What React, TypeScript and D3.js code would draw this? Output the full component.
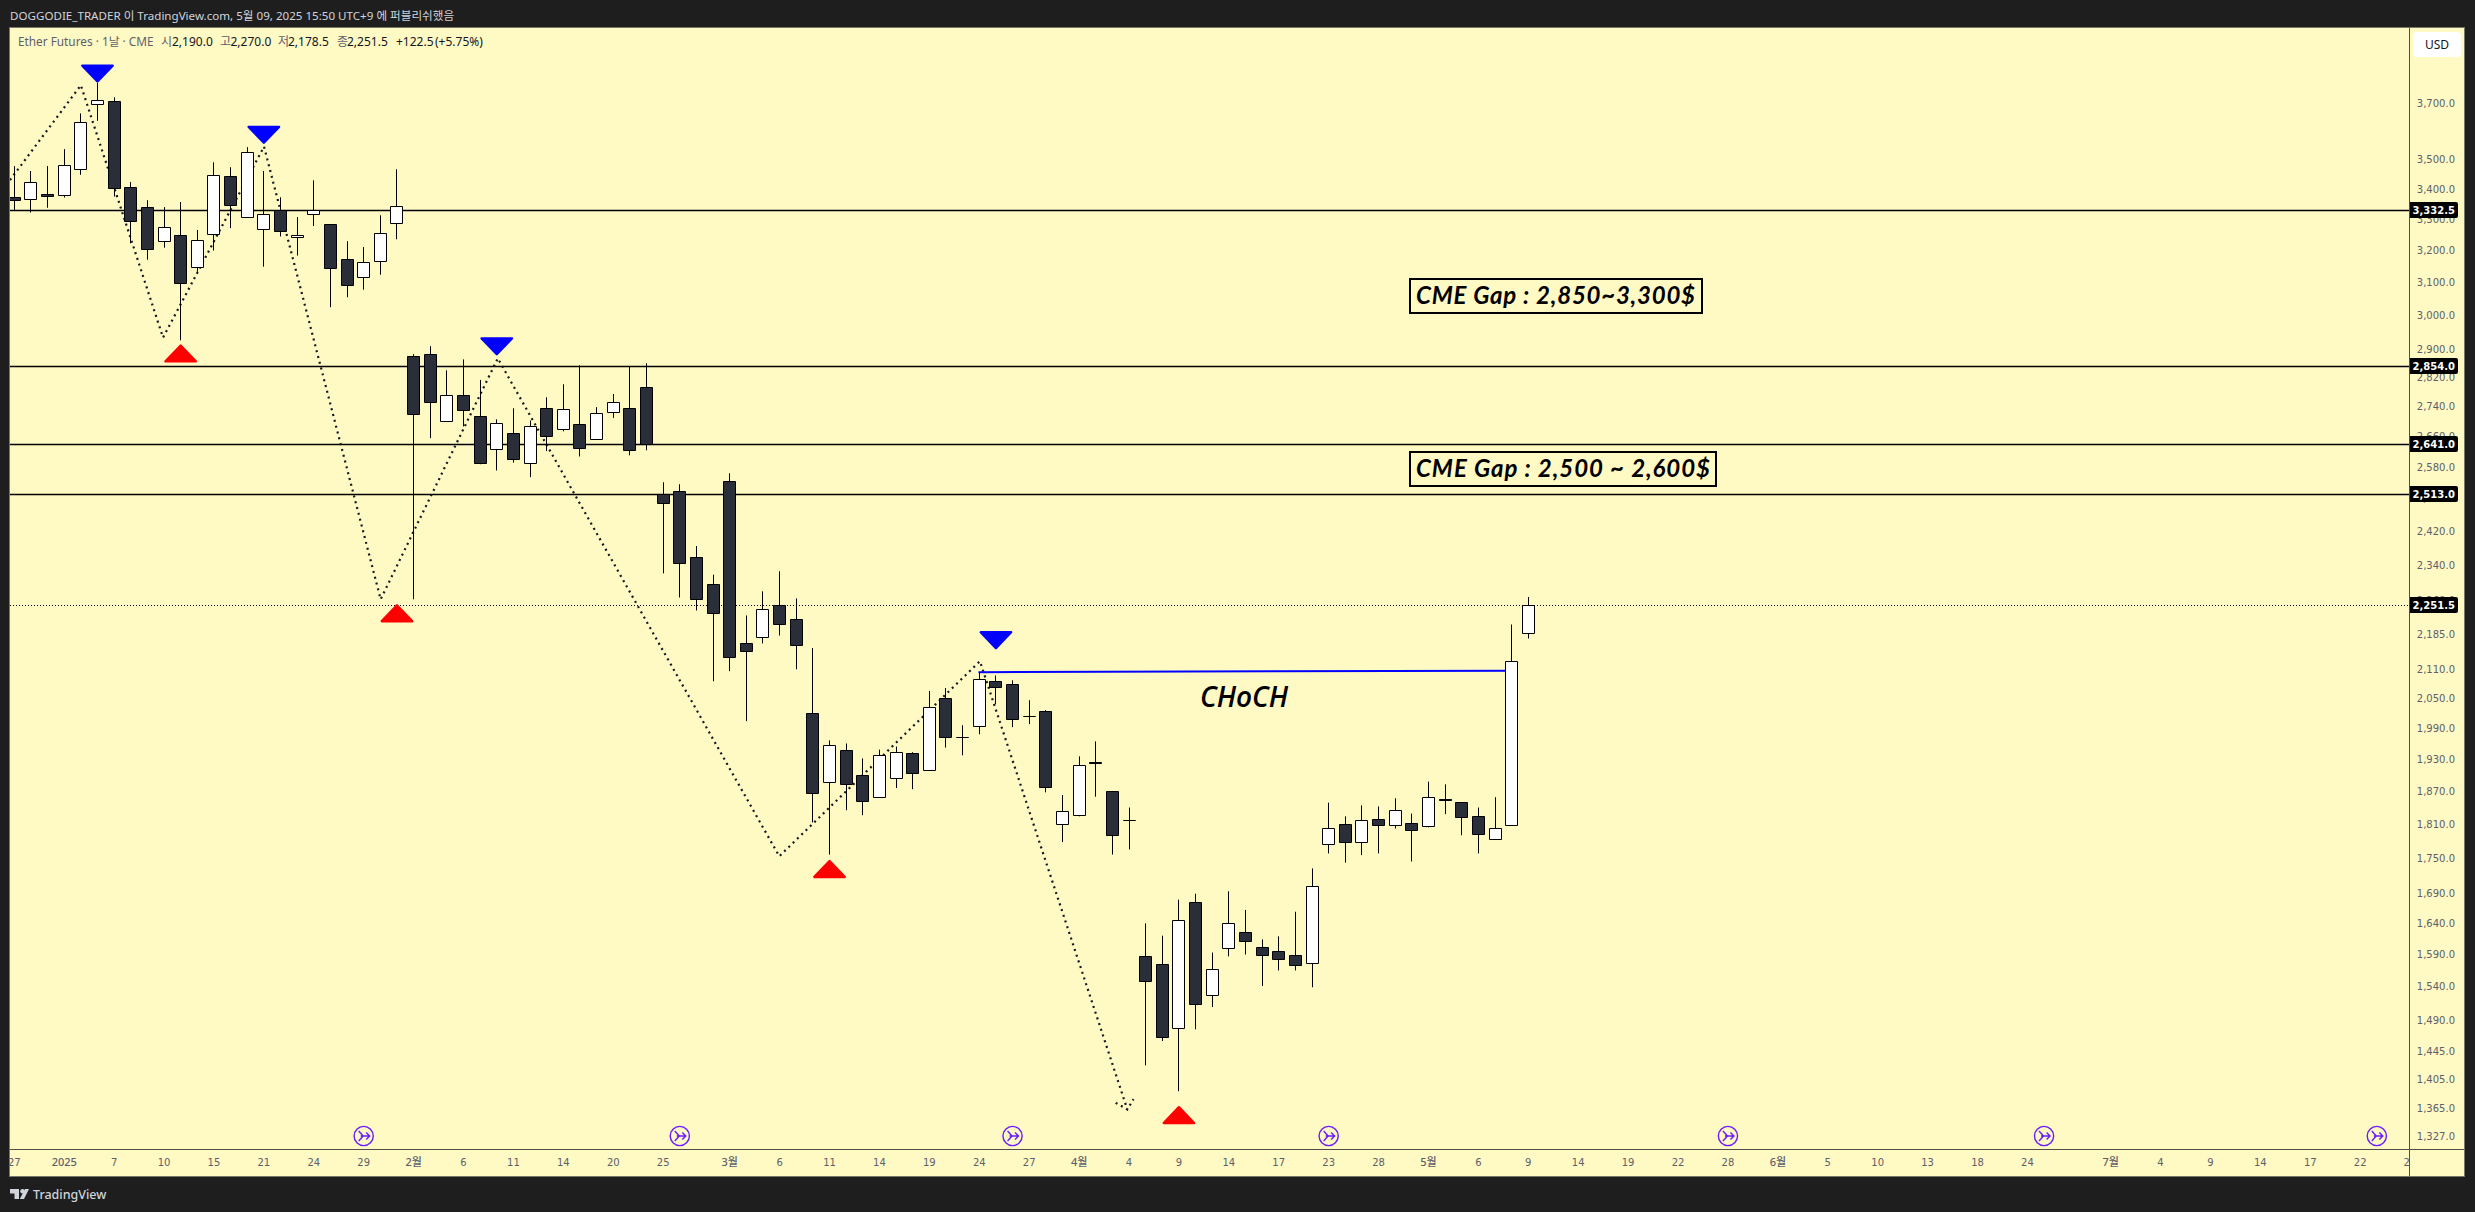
import React from "react";
import * as d3 from "d3";

// ---------- data ----------
const opens = [
  3376,3369,3386,3383,3471,3702,3713,3409,3343,3232,
  3251,3149,3254,3447,3310,3270,3333,3245,3320,3286,
  3175,3118,3168,3290,2883,2889,2701,2774,2716,2629,
  2671,2592,2738,2681,2694,2655,2727,2738,2796,2514,
  2522,2360,2298,2546,2168,2181,2251,2220,2023,1889,
  1949,1902,1861,1896,1944,1911,2053,1975,1997,2088,
  2082,2017,2027,1811,1828,1927,1872,1819,1589,1576,
  1479,1676,1529,1602,1627,1603,1597,1591,1578,1776,
  1811,1779,1820,1810,1813,1808,1857,1852,1826,1784,
  1810,2190,
];
const highs = [
  3482,3465,3482,3541,3669,3782,3728,3427,3366,3343,
  3360,3268,3495,3478,3548,3465,3376,3310,3433,3286,
  3232,3213,3316,3471,2889,2912,2843,2874,2816,2708,
  2738,2705,2768,2804,2857,2741,2777,2854,2863,2544,
  2539,2388,2321,2567,2229,2283,2329,2267,2158,1969,
  1963,1934,1951,1957,1946,2068,2074,1999,2107,2100,
  2090,2049,2029,1865,1938,1967,1872,1842,1642,1622,
  1681,1691,1595,1695,1664,1616,1621,1661,1734,1851,
  1826,1846,1844,1859,1831,1890,1885,1852,1842,1861,
  2209,2270,
];
const lows = [
  3334,3325,3341,3375,3452,3642,3378,3225,3173,3211,
  2929,3135,3202,3274,3310,3151,3247,3186,3281,3027,
  3057,3080,3126,3238,2265,2658,2701,2689,2590,2574,
  2594,2557,2624,2676,2610,2655,2712,2613,2626,2324,
  2269,2240,2088,2109,2007,2168,2185,2113,1815,1758,
  1837,1828,1861,1878,1876,1911,1955,1940,1981,2041,
  1995,2001,1870,1780,1826,1862,1758,1767,1426,1461,
  1390,1478,1511,1589,1592,1543,1567,1567,1541,1760,
  1744,1757,1760,1804,1746,1806,1830,1792,1760,1784,
  1810,2178.5,
];
const closes = [
  3366,3427,3378,3484,3637,3717,3406,3297,3206,3277,
  3099,3235,3450,3349,3530,3320,3264,3251,3333,3146,
  3094,3165,3257,3346,2722,2755,2774,2733,2592,2697,
  2603,2689,2663,2735,2631,2725,2755,2626,2642,2492,
  2348,2265,2234,2138,2151,2242,2209,2164,1868,1959,
  1885,1854,1940,1946,1905,2035,1975,1975,2092,2076,
  2011,2017,1879,1835,1920,1924,1792,1819,1550,1466,
  1646,1515,1568,1642,1613,1591,1584,1575,1703,1804,
  1779,1819,1810,1837,1801,1861,1855,1824,1794,1804,
  2130,2251.5,
];

const priceTicks = [3700,3500,3400,3300,3200,3100,3000,2900,2820,2740,2660,2580,2500,2420,2340,2260,2185,2110,2050,1990,1930,1870,1810,1750,1690,1640,1590,1540,1490,1445,1405,1365,1327];
const levelPrices = [3332.5, 2854, 2641, 2513];
const lastPrice = 2251.5;

const timeTickBars = [0,3,6,9,12,15,18,21,24,27,30,33,36,39,43,46,49,52,55,58,61,64,67,70,73,76,79,82,85,88,91,94,97,100,103,106,109,112,115,118,121,126,129,132,135,138,141,143.8];
const timeTickLabels = ["27","2025","7","10","15","21","24","29","2월","6","11","14","20","25","3월","6","11","14","19","24","27","4월","4","9","14","17","23","28","5월","6","9","14","19","22","28","6월","5","10","13","18","24","7월","4","9","14","17","22","2"];

const zigzagBars = [-0.26,4.0,8.94,15.01,22.02,29.06,45.98,58.04,66.9];
const zigzagPrices = [3434,3773,2937,3550,2265,2877,1755,2130,1365];
const hookBars = [66.2,66.9,67.27];
const hookPrices = [1374,1365,1379];

const peakBars = [5,15,29,59];
const peakPrices = [3782,3559,2885,2155];
const troughBars = [10,23,49,70];
const troughPrices = [2918,2254.5,1749,1370];

const chochBars = [57.95,90];
const chochPrices = [2107,2110];

const eventBars = [21,40,60,79,103,122,142];

const legendLabels = ["시","고","저","종"];
const legendValues = ["2,190.0","2,270.0","2,178.5","2,251.5"];

// ---------- layout ----------
const W = 2475, H = 1212;
const paneL = 10, paneT = 28, paneR = 2409, paneB = 1149, frameR = 2464, frameB = 1176;
const BG = "#fff9c4", DARK = "#1e1e1e", AXIS = "#4f4f47", TICK = "#5d606b";
const TICK_FONT = "'DejaVu Sans', sans-serif";
const UI_FONT = "'Noto Sans', 'Noto Sans CJK KR', sans-serif";

const x = d3.scaleLinear().domain([0, 91]).range([14.3, 1528.3]);
const y = d3.scaleLog().domain([3332.5, 1327]).range([210.3, 1137.9]);

const crisp = (v: number) => Math.floor(v) + 0.5;
const col = (k: number) => Math.floor(x(k)) + 0.5;
const fmt = d3.format(",.1f");

function dotted(bars: number[], prices: number[]) {
  return d3.line<number>()
    .x((_, i) => x(bars[i]))
    .y((_, i) => y(prices[i]))(bars) || "";
}

function tri(cx: number, tip: number, dir: 1 | -1) {
  // dir 1: apex at the bottom, dir -1: apex at the top
  const halfW = 15.2, h = 15.8, inset = 1.4;
  const apex = tip - dir * inset;
  const base = apex - dir * h;
  return d3.line()([[cx, apex], [cx - halfW, base], [cx + halfW, base]]) + "Z";
}

const isMajor = (i: number) => i === 1 || /월/.test(timeTickLabels[i]);

export default function App() {
  const bars = d3.range(opens.length);
  return (
    <svg width={W} height={H} viewBox={`0 0 ${W} ${H}`}
      style={{ position: "fixed", left: 0, top: 0, display: "block" }}>
      <defs>
        <clipPath id="pane"><rect x={paneL} y={paneT} width={paneR - paneL} height={paneB - paneT} /></clipPath>
      </defs>
      <rect x={0} y={0} width={W} height={H} fill={DARK} />
      <rect x={paneL - 0.5} y={paneT - 0.5} width={frameR - paneL + 1} height={frameB - paneT + 1} fill={BG} stroke="#77776a" strokeWidth={1} />

      <text x={10} y={19.5} fontFamily={UI_FONT} fontSize={11.6} fill="#d1d4dc">DOGGODIE_TRADER 이 TradingView.com, 5월 09, 2025 15:50 UTC+9 에 퍼블리쉬했음</text>

      <g clipPath="url(#pane)">
        {levelPrices.map(p => (
          <line key={p} x1={paneL} x2={paneR} y1={crisp(y(p))} y2={crisp(y(p))} stroke="#000" strokeWidth={1.3} />
        ))}
        <line x1={paneL} x2={paneR} y1={crisp(y(lastPrice))} y2={crisp(y(lastPrice))} stroke="#000" strokeWidth={1} strokeDasharray="1 2" />
        <path d={dotted(zigzagBars, zigzagPrices)} fill="none" stroke="#131722" strokeWidth={2.2} strokeDasharray="2 4" />
        <path d={dotted(hookBars, hookPrices)} fill="none" stroke="#131722" strokeWidth={2.2} strokeDasharray="2 4" />
        <line x1={x(chochBars[0])} x2={x(chochBars[1])} y1={y(chochPrices[0])} y2={y(chochPrices[1])} stroke="#0000ff" strokeWidth={2} />

        {bars.map(i => {
          const up = closes[i] >= opens[i];
          const cx = col(i);
          const top = crisp(y(Math.max(opens[i], closes[i])));
          const bot = crisp(y(Math.min(opens[i], closes[i])));
          return (
            <g key={i}>
              <line x1={cx} x2={cx} y1={y(highs[i])} y2={y(lows[i])} stroke="#000" strokeWidth={1} />
              <path d={`M${cx - 6},${top}H${cx + 6}V${bot}H${cx - 6}Z`}
                fill={up ? "#ffffff" : "#2a2e39"} stroke="#000" strokeWidth={1} />
            </g>
          );
        })}

        {peakBars.map((b, i) => {
          const d = tri(x(b), y(peakPrices[i]), 1);
          return <path key={b} d={d} fill="#0000ff" stroke="#0000ff" strokeWidth={2.4} strokeLinejoin="round" />;
        })}
        {troughBars.map((b, i) => {
          const d = tri(x(b), y(troughPrices[i]), -1);
          return <path key={b} d={d} fill="#ff0000" stroke="#ff0000" strokeWidth={2.4} strokeLinejoin="round" />;
        })}

        {eventBars.map(b => (
          <g key={b} transform={`translate(${x(b)},1136)`} fill="none" stroke="#6a1bff" strokeWidth={1.4}>
            <circle r={9.6} />
            <path d="M-5,-5 L-0.5,0 L-5,5 M-3,0 H6 M2.5,-3.5 L6,0 L2.5,3.5" />
          </g>
        ))}
      </g>

      {/* annotations */}
      <rect x={1410} y={279} width={292} height={34} fill={BG} stroke="#000" strokeWidth={2} />
      <text x={1416} y={304} fontFamily="Lato, sans-serif" fontStyle="italic" fontWeight={700} fontSize={24} fill="#000" textLength={279} lengthAdjust="spacing">CME Gap : 2,850~3,300$</text>
      <rect x={1410} y={452} width={306} height={34} fill={BG} stroke="#000" strokeWidth={2} />
      <text x={1416} y={477} fontFamily="Lato, sans-serif" fontStyle="italic" fontWeight={700} fontSize={24} fill="#000" textLength={294} lengthAdjust="spacing">CME Gap : 2,500 ~ 2,600$</text>
      <text x={1200} y={707} fontFamily="'Open Sans', sans-serif" fontStyle="italic" fontWeight={600} fontSize={28} fill="#000" textLength={88} lengthAdjust="spacing">CHoCH</text>

      {/* legend */}
      <text x={18} y={46} fontFamily={UI_FONT} fontSize={11.8} fill={TICK}>Ether Futures · 1날 · CME</text>
      {legendLabels.map((l, i) => (
        <text key={l} x={[161, 220, 278, 337][i]} y={46} fontFamily={UI_FONT} fontSize={12} fill={TICK}>{l}</text>
      ))}
      {legendValues.map((v, i) => (
        <text key={v} x={[172, 230.5, 288, 347][i]} y={46} fontFamily={UI_FONT} fontSize={12} fill="#131722">{v}</text>
      ))}
      <text x={396} y={46} fontFamily={UI_FONT} fontSize={12} fill="#131722">+122.5</text>
      <text x={435} y={46} fontFamily={UI_FONT} fontSize={12} fill="#131722">(+5.75%)</text>

      {/* axes */}
      <line x1={paneL} x2={frameR} y1={paneB + 0.5} y2={paneB + 0.5} stroke={AXIS} strokeWidth={1} />
      <line x1={paneR + 0.5} x2={paneR + 0.5} y1={paneT} y2={frameB} stroke={AXIS} strokeWidth={1} />

      {priceTicks.map(p => (
        <text key={p} x={2455} y={y(p) + 2.5} textAnchor="end" fontFamily={TICK_FONT} fontSize={10} fill={TICK}>{fmt(p)}</text>
      ))}
      {timeTickBars.map((b, i) => (
        <text key={i} x={x(b)} y={1166} textAnchor="middle" fontFamily={isMajor(i) ? UI_FONT : TICK_FONT} fontSize={isMajor(i) ? 11 : 10}
          fontWeight={isMajor(i) ? 500 : 400} fill={TICK}>{timeTickLabels[i]}</text>
      ))}

      {[...levelPrices, lastPrice].map(p => (
        <g key={p}>
          <path d={`M${paneR + 1},${crisp(y(p)) - 8.5} H2456 q2,0 2,2 V${crisp(y(p)) + 5.5} q0,2 -2,2 H${paneR + 1} Z`} fill="#000" />
          <text x={2455} y={crisp(y(p)) + 3} textAnchor="end" fontFamily={TICK_FONT} fontSize={10} fontWeight={600} fill="#fff">{fmt(p)}</text>
        </g>
      ))}

      <rect x={2413} y={32} width={48} height={25} rx={4} fill="#ffffff" />
      <text x={2437} y={48.5} textAnchor="middle" fontFamily={UI_FONT} fontSize={12} fill="#131722">USD</text>

      {/* TradingView mark */}
      <g fill="#d1d4dc" transform="translate(10,1189)">
        <path d="M0,0 H9 V10 H4.5 V4.5 H0 Z" />
        <circle cx={12.5} cy={2.2} r={2.2} />
        <path d="M15,0 H19 L14,10 H9.8 Z" />
      </g>
      <text x={33} y={1199} fontFamily={UI_FONT} fontSize={12.5} fontWeight={500} fill="#d1d4dc">TradingView</text>
    </svg>
  );
}
